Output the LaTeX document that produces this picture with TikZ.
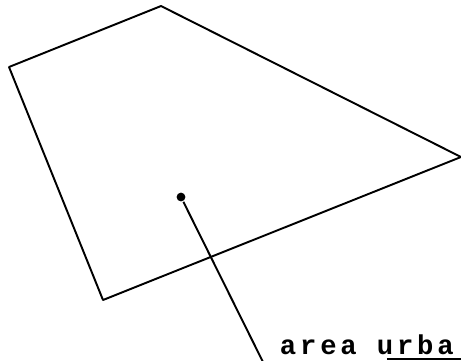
\documentclass[tikz,border=0pt]{standalone}
\usepackage{fontspec}
\newfontfamily\labelfont[LetterSpace=14]{Liberation Mono}
\usepackage{tikz}

\begin{document}
\begin{tikzpicture}[x=0.02cm,y=-0.02cm,line width=1.1pt,line join=round]
        \useasboundingbox (0,0) rectangle (461,360);
        \coordinate (nw) at (9,67);
        \coordinate (n) at (161,6);
        \coordinate (e) at (461,157);
        \coordinate (s) at (103,300);
        \draw (nw) -- (n) -- (e) -- (s) -- cycle;
        \node[circle,fill=black,inner sep=0pt,minimum size=5pt] (centre) at (181,197) {};
        \coordinate (foot) at (263,362);
        \draw (centre) -- (foot);
        \node[anchor=base west,inner sep=0pt,font=\labelfont\bfseries\fontsize{15.5}{17}\selectfont] (urban) at (279,354) {area urba};
        \draw[line width=0.8pt] (387,359) -- (461,359);
      \end{tikzpicture}
\end{document}
